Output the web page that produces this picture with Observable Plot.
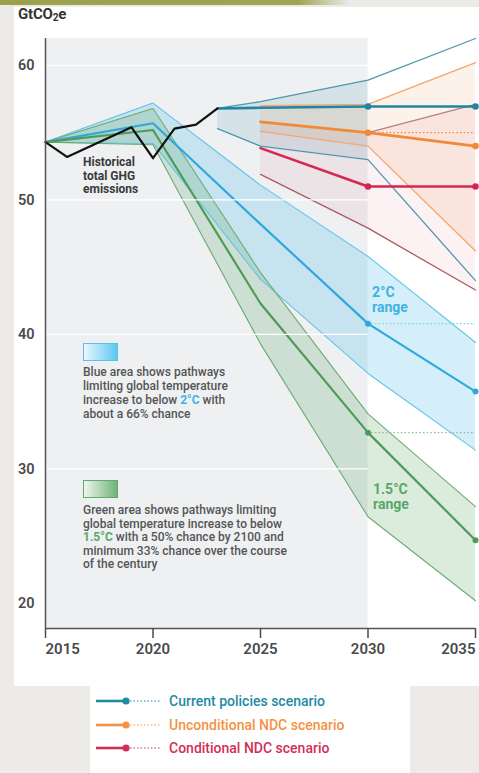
<!DOCTYPE html>
<html><head><meta charset="utf-8">
<script src="https://cdn.jsdelivr.net/npm/d3@7"></script>
<script src="https://cdn.jsdelivr.net/npm/@observablehq/plot@0.6"></script>
<style>
body{margin:0;background:#ecebe8;font-family:Roboto,"Noto Sans",sans-serif;}
#wrap{position:relative;width:479px;height:773px;overflow:hidden;background:#ecebe8;}
.abs{position:absolute;}
#olive{left:0;top:0;width:350px;height:5px;background:linear-gradient(90deg,#9aa04c 0%,#9ea452 85%,rgba(158,164,82,0) 100%);}
#card{left:14px;top:7px;width:480px;height:679px;background:#fff;}
#legbox{left:90px;top:686px;width:320px;height:90px;background:#fff;}
#title{left:18px;top:5px;font-size:15px;font-weight:700;color:#333;letter-spacing:-0.2px;}
#title sub{font-size:10px;vertical-align:-2px;line-height:0;}
#chart{left:0;top:28px;}
.note{font-size:12px;line-height:14px;color:#555;font-weight:500;}
.hist{left:83px;top:156px;font-size:12px;line-height:13.5px;font-weight:700;color:#3a3a3a;}
.rng{font-size:14px;line-height:15px;font-weight:700;}
.sw{width:33px;height:16px;}
.leg{left:96px;height:20px;display:flex;align-items:center;font-size:14px;font-weight:500;}
.leg svg{margin-right:7px;}
</style></head><body>
<div id="wrap">
  <div id="olive" class="abs"></div>
  <div id="card" class="abs"></div>
  <div id="legbox" class="abs"></div>
  <div id="title" class="abs">GtCO<sub>2</sub>e</div>
  <div id="chart" class="abs"></div>
  <div class="abs hist">Historical<br>total GHG<br>emissions</div>
  <div class="abs rng" style="left:372px;top:285px;color:#3fb3e3;">2°C<br>range</div>
  <div class="abs rng" style="left:373px;top:482px;color:#5ca66a;">1.5°C<br>range</div>
  <div class="abs sw" style="left:83px;top:343px;background:linear-gradient(90deg,#e9f7fd,#5cc8f0);border:1px solid #58c2ec;"></div>
  <div class="abs note" style="left:83px;top:365px;">Blue area shows pathways<br>limiting global temperature<br>increase to below <b style="color:#3fb3e3;font-weight:700">2°C</b> with<br>about a 66% chance</div>
  <div class="abs sw" style="left:83px;top:480px;background:linear-gradient(90deg,#eef6ee,#6fb37a);border:1px solid #62a86c;"></div>
  <div class="abs note" style="left:83px;top:504px;line-height:13.6px;">Green area shows pathways limiting<br>global temperature increase to below<br><b style="color:#5ca66a;font-weight:700">1.5°C</b> with a 50% chance by 2100 and<br>minimum 33% chance over the course<br>of the century</div>
  <div id="legend"></div>
</div>
<script>
// ---- axes / frame data
const xDomain = [2015, 2035];
const yDomain = [18.14, 62.0];
const shadedPeriod = [2015, 2030];
const xTicks = [2015, 2020, 2025, 2030, 2035];
const yTicks = [20, 30, 40, 50, 60];
const yGrid = [30, 40, 50, 60];

// ---- historical emissions
const histYears = [2015, 2016, 2019, 2020, 2021, 2022, 2023];
const histValues = [54.3, 53.2, 55.4, 53.1, 55.3, 55.6, 56.8];

// ---- pathways (2°C blue, 1.5°C green)
const pathYears = [2015, 2020, 2025, 2030, 2035];
const blueUpper  = [54.3, 57.2, 51.1, 45.8, 39.4];
const blueMedian = [54.3, 55.7, 48.2, 40.8, 35.75];
const blueLower  = [54.3, 54.2, 44.1, 37.1, 31.4];
const greenUpper  = [54.3, 56.8, 44.6, 34.1, 27.2];
const greenMedian = [54.3, 55.2, 42.3, 32.7, 24.7];
const greenLower  = [54.3, 54.1, 39.3, 26.45, 20.2];

// ---- scenarios
const cpYears = [2023, 2025, 2030, 2035];
const cpMain  = [56.8, 56.85, 56.95, 56.95];
const cpUpper = [56.8, 57.3, 58.9, 62.0];
const cpLower = [55.3, 54.0, 53.0, 44.0];
const ndcYears = [2025, 2030, 2035];
const uncMain  = [55.8, 55.0, 54.0];
const uncUpper = [57.0, 57.1, 60.2];
const uncLower = [55.1, 54.0, 46.2];
const condMain  = [53.85, 51.0, 51.0];
const condUpper = [55.8, 55.0, 57.1];
const condLower = [51.9, 47.9, 43.3];

// ---- legend
const legendNames = ["Current policies scenario", "Unconditional NDC scenario", "Conditional NDC scenario"];
const legendColors = ["#1f8aa6", "#f39245", "#d22f57"];

const C = {
  blueFill: "#3fb8e8", blueEdge: "#62c3ea", blueLine: "#2fa8de",
  greenFill: "#5aa35f", greenEdge: "#6eab74", greenLine: "#4f9a58",
  cp: "#1f85a1", cpEdge: "#4f98ad", unc: "#f08a38", uncEdge: "#f4a66e",
  cond: "#d42752", condEdge: "#a95c5e", condUp: "#b98083"
};

const band = (years, lo, mid, hi) => years.map((x, i) => ({x, lo: lo[i], mid: mid[i], hi: hi[i]}));
const blue = band(pathYears, blueLower, blueMedian, blueUpper);
const green = band(pathYears, greenLower, greenMedian, greenUpper);
const cp = band(cpYears, cpLower, cpMain, cpUpper);
const unc = band(ndcYears, uncLower, uncMain, uncUpper);
const cond = band(ndcYears, condLower, condMain, condUpper);
const hist = histYears.map((x, i) => ({x, y: histValues[i]}));
const endYear = shadedPeriod[1];
const cpShade = cp.filter(d => d.x <= endYear);
const condAfter = cond.filter(d => d.x >= endYear);

const dots = [
  ...cp.filter(d => d.x >= endYear).map(d => ({x: d.x, y: d.mid, c: C.cp, r: 3.6})),
  ...unc.filter(d => d.x >= endYear).map(d => ({x: d.x, y: d.mid, c: C.unc, r: 3.6})),
  ...cond.filter(d => d.x >= endYear).map(d => ({x: d.x, y: d.mid, c: C.cond, r: 3.6})),
  ...blue.filter(d => d.x >= endYear).map(d => ({x: d.x, y: d.mid, c: C.blueLine, r: 3})),
  ...green.filter(d => d.x >= endYear).map(d => ({x: d.x, y: d.mid, c: C.greenLine, r: 3}))
];
const dotted = [
  {y: unc.find(d => d.x === endYear).mid, c: C.unc},
  {y: blue.find(d => d.x === endYear).mid, c: "#7fcdee"},
  {y: green.find(d => d.x === endYear).mid, c: "#8dbf92"}
];

const fmt = d3.format("d");
const axisOpts = {tickSize: 10, tickPadding: 5, fontSize: 15, fontWeight: 600, color: "#4a4a4a", strokeWidth: 1.5, tickFormat: fmt, label: null};

const chart = Plot.plot({
  width: 479, height: 652,
  marginLeft: 45, marginRight: 4, marginTop: 10, marginBottom: 52,
  x: {domain: xDomain},
  y: {domain: yDomain},
  style: {background: "transparent", fontFamily: "Roboto, sans-serif", overflow: "visible"},
  marks: [
    Plot.rect([shadedPeriod], {x1: d => d[0], x2: d => d[1], y1: yDomain[0], y2: yDomain[1], fill: "#eef0f2"}),
    // bands
    Plot.areaY(blue, {x: "x", y1: "lo", y2: "hi", fill: C.blueFill, fillOpacity: 0.22}),
    Plot.areaY(green, {x: "x", y1: "lo", y2: "hi", fill: C.greenFill, fillOpacity: 0.22}),
    Plot.areaY(cpShade, {x: "x", y1: "lo", y2: "hi", fill: C.cp, fillOpacity: 0.12}),
    Plot.areaY(unc, {x: "x", y1: "lo", y2: "hi", fill: C.unc, fillOpacity: 0.11}),
    Plot.areaY(cond, {x: "x", y1: "lo", y2: "hi", fill: C.cond, fillOpacity: 0.065}),
    // band edges
    Plot.line(blue, {x: "x", y: "hi", stroke: C.blueEdge, strokeWidth: 1.1}),
    Plot.line(blue, {x: "x", y: "lo", stroke: C.blueEdge, strokeWidth: 1.1}),
    Plot.line(green, {x: "x", y: "hi", stroke: C.greenEdge, strokeWidth: 1.1}),
    Plot.line(green, {x: "x", y: "lo", stroke: C.greenEdge, strokeWidth: 1.1}),
    Plot.line(blue, {x: "x", y: "mid", stroke: C.blueLine, strokeWidth: 2.2}),
    Plot.line(green, {x: "x", y: "mid", stroke: C.greenLine, strokeWidth: 2.2}),
    // scenario ranges
    Plot.line(cp, {x: "x", y: "hi", stroke: C.cpEdge, strokeWidth: 1.3}),
    Plot.line(cp, {x: "x", y: "lo", stroke: C.cpEdge, strokeWidth: 1.3}),
    Plot.line(unc, {x: "x", y: "hi", stroke: C.uncEdge, strokeWidth: 1.3}),
    Plot.line(unc, {x: "x", y: "lo", stroke: C.uncEdge, strokeWidth: 1.3}),
    Plot.line(condAfter, {x: "x", y: "hi", stroke: C.condUp, strokeWidth: 1.3}),
    Plot.line(cond, {x: "x", y: "lo", stroke: C.condEdge, strokeWidth: 1.3}),
    // dotted continuation
    Plot.ruleY(dotted, {x1: endYear, x2: xDomain[1], y: "y", stroke: "c", strokeWidth: 1.3, strokeDasharray: "1.5 2.2"}),
    // scenario mains
    Plot.line(cp, {x: "x", y: "mid", stroke: C.cp, strokeWidth: 2.6}),
    Plot.line(unc, {x: "x", y: "mid", stroke: C.unc, strokeWidth: 2.6}),
    Plot.line(cond, {x: "x", y: "mid", stroke: C.cond, strokeWidth: 2.6}),
    // historical
    Plot.line(hist, {x: "x", y: "y", stroke: "#111", strokeWidth: 2.2}),
    // grid
    Plot.ruleY(yGrid, {x1: shadedPeriod[0], x2: shadedPeriod[1], stroke: "#fff", strokeWidth: 1.2}),
    Plot.dot(dots, {x: "x", y: "y", fill: "c", r: "r"}),
    // axes
    Plot.ruleX([xDomain[0]], {stroke: "#555", strokeWidth: 1.5}),
    Plot.ruleY([yDomain[0]], {stroke: "#555", strokeWidth: 1.5}),
    Plot.axisY(yTicks, {tickSize: 0, tickPadding: 11, fontSize: 14.5, fontWeight: 600, color: "#4a4a4a", label: null}),
    Plot.axisX(xTicks.slice(0, 1), {...axisOpts, textAnchor: "start"}),
    Plot.axisX(xTicks.slice(1, -1), {...axisOpts, textAnchor: "middle"}),
    Plot.axisX(xTicks.slice(-1), {...axisOpts, textAnchor: "end"})
  ]
});
document.getElementById("chart").appendChild(chart);

// legend
const leg = document.getElementById("legend");
const rowTops = [691, 715, 738];
legendNames.forEach((name, i) => {
  const row = document.createElement("div");
  row.className = "abs leg";
  row.style.top = rowTops[i] + "px";
  row.style.color = legendColors[i];
  row.innerHTML = `<svg width="66" height="10"><line x1="0" y1="5" x2="30" y2="5" stroke="${legendColors[i]}" stroke-width="2.6"/><circle cx="30" cy="5" r="3.6" fill="${legendColors[i]}"/><line x1="34" y1="5" x2="64" y2="5" stroke="${legendColors[i]}" stroke-width="1.2" stroke-dasharray="1.5 2"/></svg><span>${name}</span>`;
  leg.appendChild(row);
});
</script>
</body></html>
